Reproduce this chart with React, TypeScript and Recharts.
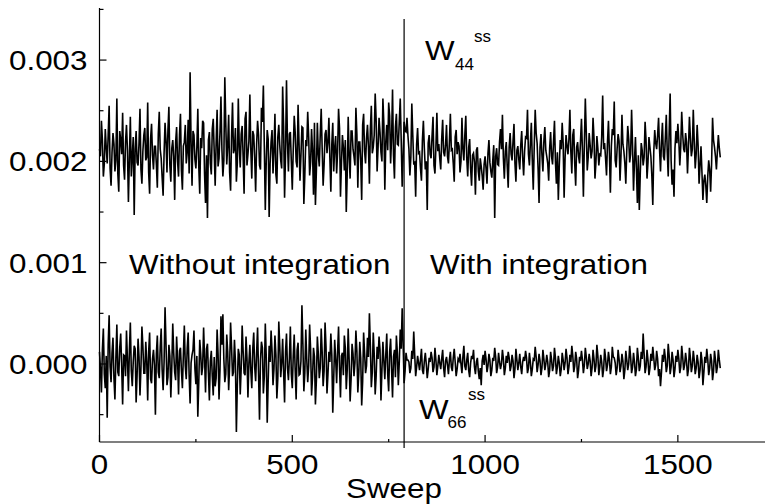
import { FC } from "react"
import { Line, LineChart, ReferenceLine, XAxis, YAxis } from "recharts"

// sweep sampling step of the traces (A samples on the step, B samples half a step later)
const SWEEP_STEP = 5

// W44^ss trace, units of 1e-5, sweeps 0, 5, 10, ...
const w44A: number[] = [
  212, 240, 185, 232, 198, 255, 176, 228, 190, 262, 170, 221, 248, 182, 236, 160, 244, 205, 147, 230,
  196, 252, 178, 226, 201, 258, 168, 237, 192, 215, 174, 249, 203, 166, 238, 189, 254, 180, 221, 162,
  234, 185, 247, 172, 219, 198, 241, 288, 176, 226, 193, 252, 168, 213, 238, 159, 144, 229, 187, 242,
  176, 251, 203, 264, 185, 283, 197, 246, 171, 258, 212, 180, 262, 194, 235, 168, 249, 207, 266, 183,
  226, 170, 240, 196, 253, 275, 152, 231, 145, 219, 188, 247, 178, 236, 201, 274, 164, 280, 190, 229,
  172, 245, 200, 256, 181, 234, 158, 221, 249, 186, 232, 167, 157, 238, 195, 252, 176, 227, 208, 243,
  170, 238, 214, 188, 252, 165, 226, 191, 150, 244, 183, 230, 205, 253, 174, 219, 162, 247, 198, 236,
  178, 255, 214, 267, 190, 243, 209, 262, 172, 236, 258, 198, 271, 183, 247, 216, 262, 175, 239, 229,
  225, 186, 257, 198, 165, 233, 209, 181, 240, 192, 152, 226, 203, 244, 188, 248, 217, 192, 241, 205,
  236, 198, 247, 212, 180, 231, 219, 189, 243, 201, 245, 185, 222, 176, 208, 167, 214, 181, 195, 172,
  205, 178, 221, 190, 201, 144, 213, 196, 232, 246, 183, 219, 174, 228, 201, 237, 180, 215, 192, 230,
  186, 224, 251, 196, 238, 172, 251, 218, 159, 227, 190, 234, 205, 181, 229, 197, 240, 178, 162, 221,
  238, 164, 226, 207, 251, 188, 232, 176, 219, 198, 242, 165, 262, 191, 228, 203, 243, 183, 225, 196,
  206, 265, 218, 186, 240, 169, 232, 259, 194, 227, 181, 246, 210, 178, 235, 199, 251, 171, 224, 159,
  152, 218, 196, 239, 183, 224, 205, 157, 231, 212, 243, 190, 238, 201, 246, 185, 267, 177, 165, 230,
  237, 196, 249, 212, 228, 188, 244, 205, 251, 193, 236, 178, 215, 162, 187, 159, 201, 170, 243, 214,
  192, 226, 204,
]

// W44^ss trace, units of 1e-5, sweeps 2.5, 7.5, 12.5, ...
const w44B: number[] = [
  205, 221, 198, 214, 226, 193, 209, 217, 201, 188, 230, 207, 196, 219, 211, 203, 185, 224, 212, 199,
  218, 192, 210, 233, 204, 189, 222, 206, 215, 197, 227, 212, 184, 208, 220, 231, 196, 213, 205, 219,
  200, 226, 191, 215, 236, 209, 188, 219, 230, 202, 214, 195, 223, 240, 187, 206, 221, 198, 232, 210,
  218, 195, 229, 212, 201, 238, 216, 189, 225, 208, 233, 199, 214, 227, 205, 242, 196, 220, 211, 230,
  203, 217, 226, 192, 239, 214, 201, 222, 198, 231, 210, 187, 224, 216, 193, 235, 208, 219, 227, 200,
  212, 229, 194, 218, 206, 233, 186, 215, 224, 199, 210, 238, 191, 207, 226, 213, 197, 231, 219, 203,
  217, 190, 225, 209, 233, 198, 214, 221, 188, 205, 230, 212, 196, 227, 219, 201, 236, 210, 223, 215,
  232, 208, 226, 241, 214, 229, 200, 237, 219, 211, 245, 223, 206, 234, 217, 239, 221, 205, 230, 243,
  212, 204, 226, 199, 217, 208, 193, 221, 213, 200, 218, 207, 225, 196, 214, 210, 203, 222, 209, 216,
  205, 219, 211, 198, 224, 207, 215, 200, 212, 226, 203, 214, 193, 206, 199, 211, 190, 203, 186, 197,
  193, 208, 199, 184, 216, 205, 197, 219, 212, 203, 210, 195, 214, 207, 220, 198, 211, 202, 216, 204,
  210, 223, 207, 218, 201, 215, 228, 193, 214, 206, 220, 211, 198, 213, 205, 219, 200, 209, 196, 212,
  218, 203, 215, 222, 209, 226, 198, 214, 205, 220, 211, 217, 228, 204, 216, 210, 223, 199, 213, 207,
  224, 212, 203, 219, 208, 215, 226, 201, 213, 220, 205, 217, 198, 211, 222, 207, 216, 200, 193, 206,
  188, 211, 204, 221, 199, 214, 186, 209, 218, 226, 212, 219, 205, 223, 209, 229, 201, 192, 213, 218,
  221, 215, 227, 209, 219, 214, 223, 212, 220, 207, 216, 196, 189, 181, 176, 185, 192, 198, 221, 205,
  210, 213,
]

// W66^ss trace, units of 1e-5, sweeps 0, 5, 10, ...
const w66A: number[] = [
  12, -28, 35, -24, -53, 48, -18, 26, -35, 39, -12, 30, -40, 8, 33, -27, 41, -22, 18, -38,
  25, -31, 37, -9, 22, -36, 31, -19, 14, -50, 28, -14, 35, -26, 56, -21, 19, -33, 40, -8,
  27, -30, 16, -24, 38, -15, 31, -39, 9, 33, -20, -52, 24, -11, 36, -28, 20, -36, 13, -31,
  -22, 34, -35, 47, 49, -18, 29, -26, 41, -12, 24, -67, 15, -30, 38, -9, 27, -33, 19, -24,
  31, -17, 36, -55, 22, -29, 40, -58, 18, 33, -21, 28, -34, 42, -13, 25, -38, 30, -16, 37,
  -24, 29, -35, 21, -10, 58, -27, 34, -18, 39, -31, 16, -40, 27, -14, 35, -22, 41, -29, 12,
  30, -48, 24, -19, 37, -33, 11, 28, -25, 35, -37, 20, -12, 33, -28, 22, -41, 31, -9, 26,
  50, -23, 31, -30, 17, 27, -36, 22, -15, 30, -27, 25, -33, 14, 28, -21, 34, 55, -19, 11,
  4, -9, 13, 32, -12, 8, -6, 15, -10, 11, -14, 6, 12, -8, 16, -11, 9, -5, 14, -13,
  7, -10, 12, -7, 15, -12, 5, 10, -9, 18, -6, 11, -13, 8, 14, -10, 6, -15, -21, 9,
  13, -8, 10, -12, 6, 16, -9, 11, -5, 14, -11, 8, 12, -7, 9, -14, 15, -6, 10, -10,
  7, 13, -9, 11, -12, 5, 17, -8, 10, -11, 14, -6, 9, -13, 12, -7, 16, -10, 8, -12,
  11, -6, 15, -10, 9, 18, -8, 12, -14, 7, 13, -9, 16, -5, 10, -12, 14, -8, 19, -11,
  9, -13, 15, -7, 12, -10, 17, 6, -11, 14, -8, 10, -15, 13, -6, 18, -9, 11, -12, 16,
  -7, 12, 30, -9, 14, -11, 10, 17, -6, 13, -12, -22, 9, 15, -8, 20, -10, 12, -13, 8,
  14, -9, 18, -6, 11, -12, 16, -8, 13, -10, 9, -14, 12, -21, 7, 15, -11, 10, -16, 13,
  -9, 14, -4,
]

// W66^ss trace, units of 1e-5, sweeps 2.5, 7.5, 12.5, ...
const w66B: number[] = [
  -5, 14, -10, 8, 19, -3, 11, -14, 6, -8, 16, -2, 9, -12, 4, 13, -7, 2, 15, -11,
  7, -4, 18, -9, 3, 12, -15, 5, -1, 10, -8, 17, -6, 2, 20, -13, 8, -3, 11, -16,
  4, 13, -7, 9, -2, 16, -11, 1, 14, -5, 8, -18, 10, -3, 6, 15, -9, 3, -12, 7,
  -14, 10, -6, 19, 5, -10, 12, -2, 17, -8, 3, -20, 9, -4, 13, -11, 6, 1, -7, 15,
  -3, 11, -9, 4, 16, -12, 7, -17, 2, 13, -5, 9, -14, 18, 1, -8, 12, -4, 6, -10,
  8, -6, 14, -11, 3, 20, -9, 5, -2, 15, -13, 7, -16, 10, -4, 12, -7, 17, -10, 2,
  9, -14, 5, 12, -3, 8, -11, 16, -6, 4, -15, 10, 1, 13, -9, 6, -17, 11, -2, 7,
  18, -8, 10, -12, 5, 14, -6, 3, 9, -10, 12, -5, 7, -13, 11, 2, 15, 20, -7, 4,
  2, -4, 5, 9, -3, 1, 4, -6, 3, 0, -5, 2, 6, -3, 4, -2, 1, 5, -4, 3,
  -1, 4, -3, 6, 2, -5, 3, 0, 7, -2, 4, -6, 1, 5, -3, 2, -7, -4, 3, -1,
  5, -2, 4, -6, 3, 7, -3, 2, 0, 5, -4, 1, 6, -2, 3, -5, 4, 1, -3, 2,
  3, 6, -4, 2, -5, 4, 7, -1, 3, -4, 5, 0, 2, -6, 4, -2, 6, -3, 1, -5,
  4, 1, 6, -3, 2, 8, -2, 5, -6, 3, 4, -1, 7, 0, 3, -4, 5, -2, 8, -3,
  2, -5, 6, -1, 4, -3, 7, 1, -4, 5, -2, 3, -6, 4, 0, 7, -3, 2, -5, 6,
  -2, 5, 10, -3, 4, -4, 3, 6, -1, 5, -5, -8, 2, 6, -2, 8, -3, 4, -5, 2,
  5, -3, 7, -1, 3, -5, 6, -2, 4, -4, 2, -6, 4, -8, 1, 5, -4, 3, -7, 4,
  -3, 4,
]

const xTicks = [0, 250, 500, 750, 1000, 1250, 1500]
const yTicks = [-0.0005, 0, 0.0005, 0.001, 0.0015, 0.002, 0.0025, 0.003, 0.0035]
const switchSweep = 790

const data: { sweep: number; w44: number; w66: number }[] = []
w44A.forEach((v, i) => {
  data.push({ sweep: i * SWEEP_STEP, w44: v / 1e5, w66: w66A[i] / 1e5 })
  if (i < w44B.length) {
    data.push({ sweep: i * SWEEP_STEP + SWEEP_STEP / 2, w44: w44B[i] / 1e5, w66: w66B[i] / 1e5 })
  }
})

const FONT = "'Liberation Sans', Arial, sans-serif"
const SX = 1.12

const Txt: FC<{ x: number; y: number; size?: number; sx?: number; anchor?: string; children: string }> = ({
  x, y, size = 28, sx = SX, anchor = "start", children,
}) => (
  <text
    transform={`translate(${x},${y}) scale(${sx},1)`}
    textAnchor={anchor as any}
    fontFamily={FONT}
    fontSize={size}
    fill="#000"
  >
    {children}
  </text>
)

const YTick = (props: any) => {
  const { x, y, payload } = props
  const major = Math.round(payload.value * 2000) % 2 === 0
  return (
    <g>
      <line x1={x} x2={x + (major ? 7 : 4)} y1={y} y2={y} stroke="#000" strokeWidth={1.2} />
      {major && (
        <Txt x={x - 12} y={y + 10} anchor="end">
          {payload.value.toFixed(3)}
        </Txt>
      )}
    </g>
  )
}

const XTick = (props: any) => {
  const { x, y, payload } = props
  const major = payload.value % 500 === 0
  return (
    <g>
      <line x1={x} x2={x} y1={y} y2={y - (major ? 7 : 3)} stroke="#000" strokeWidth={1.2} />
      {major && (
        <Txt x={x} y={y + 32} anchor="middle">
          {String(payload.value)}
        </Txt>
      )}
    </g>
  )
}

const App: FC = () => {
  return (
    <div style={{ position: "absolute", left: 0, top: 0, width: 765, height: 504, background: "#fff" }}>
      <LineChart width={765} height={504} data={data} margin={{ top: 8, right: 0, bottom: 0, left: 0 }}>
        <XAxis
          dataKey="sweep"
          type="number"
          domain={[0, 1726]}
          ticks={xTicks}
          interval={0}
          height={62}
          tickSize={0}
          tickMargin={0}
          tickLine={false}
          tick={<XTick />}
          axisLine={{ stroke: "#000", strokeWidth: 1.2 }}
        />
        <YAxis
          type="number"
          domain={[-0.00077, 0.003514]}
          ticks={yTicks}
          interval={0}
          width={99.5}
          tickSize={0}
          tickMargin={0}
          tickLine={false}
          tick={<YTick />}
          axisLine={{ stroke: "#000", strokeWidth: 1.2 }}
        />
        <ReferenceLine
          segment={[{ x: switchSweep, y: 0.003406 }, { x: switchSweep, y: -0.00083 }]}
          stroke="#000"
          strokeWidth={1.2}
          ifOverflow="visible"
        />
        <Line dataKey="w44" stroke="#000" strokeWidth={1.6} dot={false} isAnimationActive={false} />
        <Line dataKey="w66" stroke="#000" strokeWidth={1.6} dot={false} isAnimationActive={false} />
      </LineChart>
      <svg width={765} height={504} style={{ position: "absolute", left: 0, top: 0, pointerEvents: "none" }}>
        <Txt x={425} y={60}>W</Txt>
        <Txt x={455} y={70} size={17} sx={1}>44</Txt>
        <Txt x={474} y={42} size={17} sx={1}>ss</Txt>
        <Txt x={129} y={274}>Without integration</Txt>
        <Txt x={430} y={274}>With integration</Txt>
        <Txt x={419} y={419}>W</Txt>
        <Txt x={447.5} y={428} size={17} sx={1}>66</Txt>
        <Txt x={468} y={400} size={17} sx={1}>ss</Txt>
        <Txt x={346} y={498}>Sweep</Txt>
      </svg>
    </div>
  )
}

export default App
